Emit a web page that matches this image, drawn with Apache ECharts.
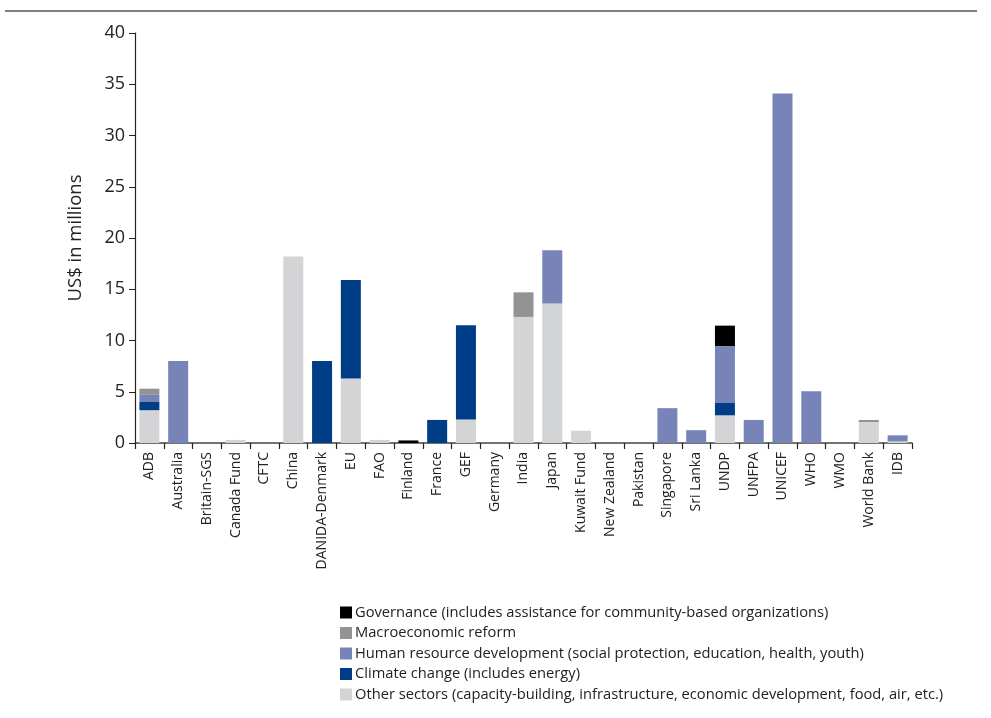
<!DOCTYPE html>
<html><head><meta charset="utf-8">
<script src="https://cdn.jsdelivr.net/npm/echarts@6/dist/echarts.min.js"></script>
<style>html,body{margin:0;padding:0;background:#fff}#c{width:991px;height:718px}</style>
</head><body><div id="c"></div>
<script>
const categories = ['ADB','Australia','Britain-SGS','Canada Fund','CFTC','China','DANIDA-Denmark','EU','FAO','Finland','France','GEF','Germany','India','Japan','Kuwait Fund','New Zealand','Pakistan','Singapore','Sri Lanka','UNDP','UNFPA','UNICEF','WHO','WMO','World Bank','IDB'];
const otherSectors = [3.2,0,0,0.3,0,18.2,0,6.3,0.3,0,0,2.3,0,12.3,13.6,1.2,0,0,0,0,2.7,0,0,0,0,2.05,0.15];
const climateChange = [0.8,0,0,0,0,0,8.0,9.6,0,0,2.25,9.2,0,0,0,0,0,0,0,0,1.2,0,0,0,0,0,0];
const humanResource = [0.7,8.0,0,0,0,0,0,0,0,0,0,0,0,0,5.2,0,0,0,3.4,1.25,5.55,2.25,34.1,5.05,0,0,0.6];
const macroReform = [0.6,0,0,0,0,0,0,0,0,0,0,0,0,2.4,0,0,0,0,0,0,0,0,0,0,0,0.2,0];
const governance = [0,0,0,0,0,0,0,0,0,0.25,0,0,0,0,0,0,0,0,0,0,2.0,0,0,0,0,0,0];
const yTicks = [0,5,10,15,20,25,30,35,40];
const legendNames = ['Governance (includes assistance for community-based organizations)','Macroeconomic reform','Human resource development (social protection, education, health, youth)','Climate change (includes energy)','Other sectors (capacity-building, infrastructure, economic development, food, air, etc.)'];

const font = '"Open Sans", sans-serif';
const chart = echarts.init(document.getElementById('c'), null, {renderer:'canvas'});
const mk = (name, data, color) => ({name, type:'bar', stack:'s', data, barWidth:20, itemStyle:{color}, emphasis:{disabled:true}});
chart.setOption({
  animation:false,
  textStyle:{fontFamily:font},
  grid:{left:135,right:79,top:33,bottom:275,containLabel:false},
  graphic:[{type:'line',shape:{x1:5,y1:11,x2:977,y2:11},style:{stroke:'#000',lineWidth:1.2}}],
  legend:{
    orient:'vertical',left:335,top:599,itemWidth:12,itemHeight:12,itemGap:3.5,
    icon:'rect',data:legendNames,selectedMode:false,
    textStyle:{fontFamily:font,fontSize:14.7,color:'#222',padding:[0,0,0,-2],lineHeight:17}
  },
  xAxis:{type:'category',data:categories,
    axisLine:{lineStyle:{color:'#444',width:1.5}},
    axisTick:{show:true,length:6,lineStyle:{color:'#222',width:1.2},alignWithLabel:false},
    axisLabel:{rotate:90,interval:0,fontSize:14,color:'#222',margin:9,fontFamily:font}
  },
  yAxis:{type:'value',min:0,max:40,interval:5,
    name:'US$ in millions',nameLocation:'middle',nameGap:50,
    nameTextStyle:{fontSize:18.5,color:'#222',fontFamily:font},
    axisLine:{show:true,lineStyle:{color:'#222',width:1.2}},
    axisTick:{show:true,length:6,lineStyle:{color:'#222'}},
    splitLine:{show:false},
    axisLabel:{fontSize:18,color:'#222',margin:10,fontFamily:font,
      formatter:v=>yTicks.includes(v)?String(v):''}
  },
  series:[
    mk(legendNames[4], otherSectors, '#d3d4d6'),
    mk(legendNames[3], climateChange, '#003d87'),
    mk(legendNames[2], humanResource, '#7884b8'),
    mk(legendNames[1], macroReform, '#939393'),
    mk(legendNames[0], governance, '#000000')
  ]
});
</script></body></html>
